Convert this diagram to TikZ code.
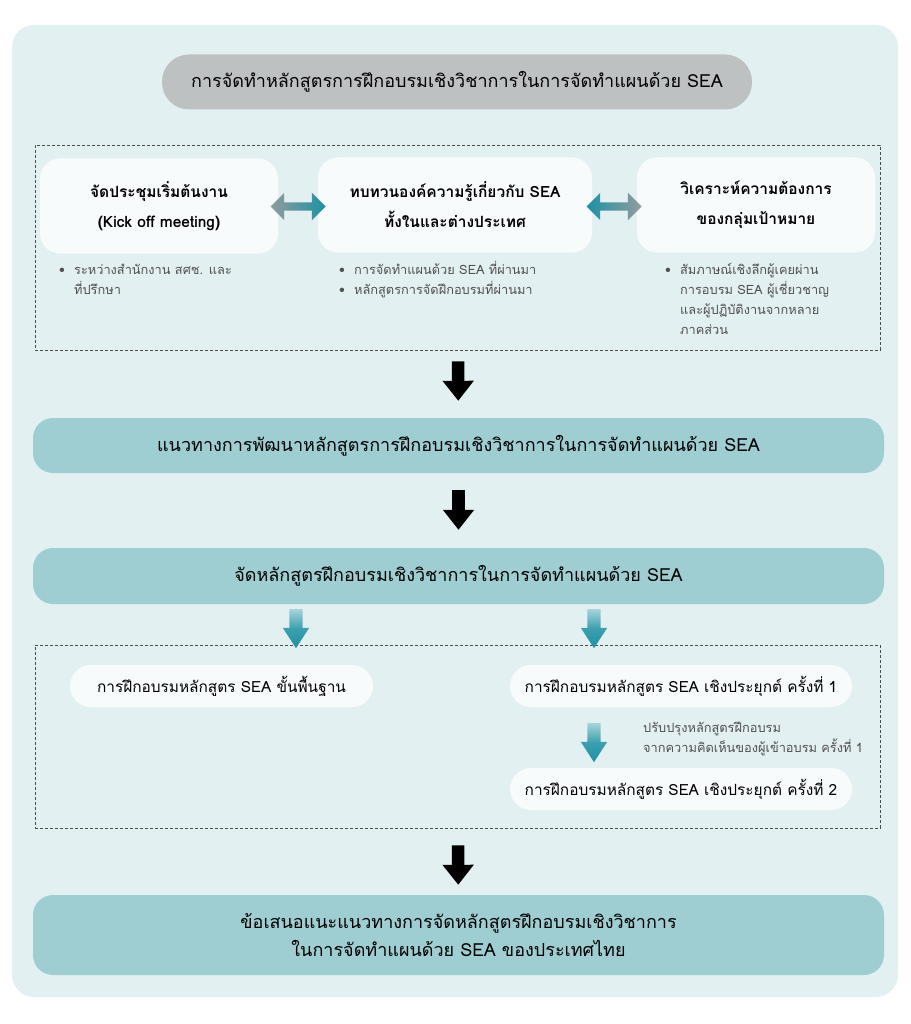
\documentclass[tikz,border=0pt]{standalone}
\usepackage{fontspec}
\setmainfont{Loma}[Script=Thai]
\usetikzlibrary{positioning,calc,shapes.arrows,arrows.meta}

\definecolor{panelbg}{RGB}{227,240,242}
\definecolor{titlegray}{RGB}{190,193,194}
\definecolor{boxwhite}{RGB}{247,251,252}
\definecolor{bandteal}{RGB}{159,206,210}
\definecolor{arrowteal}{RGB}{30,145,163}
\definecolor{arrowgray}{RGB}{145,156,158}
\definecolor{notegray}{RGB}{80,80,80}

\tikzset{
  titlebox/.style={fill=titlegray, rounded corners=27pt, minimum width=590pt,
    minimum height=55pt, inner sep=0pt, font=\fontsize{18}{22}\selectfont},
  topicbox/.style={fill=boxwhite, rounded corners=20pt, minimum height=95pt,
    inner sep=0pt, align=center, font=\bfseries\fontsize{15.5}{30}\selectfont},
  band/.style={fill=bandteal, rounded corners=20pt, minimum width=851pt,
    inner sep=0pt, align=center, font=\fontsize{18}{28}\selectfont},
  pill/.style={fill=boxwhite, rounded corners=21pt, minimum height=42pt,
    inner sep=0pt, font=\fontsize{15.4}{18}\selectfont},
  frame/.style={draw=black!70, densely dashed, line width=0.6pt,
    minimum width=845pt, inner sep=0pt},
  notes/.style={anchor=north west, inner sep=0pt, text=notegray,
    font=\fontsize{12.8}{20}\selectfont},
  swaparrow/.style={double arrow, double arrow head extend=9.5pt, inner sep=4pt,
    minimum height=55pt, shading=axis},
  tealdown/.style={single arrow, shape border rotate=270, inner sep=6.5pt,
    single arrow head extend=6.5pt, single arrow tip angle=66,
    minimum height=39pt, top color=arrowteal!30!panelbg,
    bottom color=arrowteal, middle color=arrowteal!85!panelbg},
  blackdown/.style={line width=12.5pt,
    -{Triangle[width=30pt,length=20pt]}}
}

\newcommand{\blist}[1]{{\fontsize{12.8}{20}\selectfont
  \begin{tabular}{@{}l@{\hspace{9pt}}l@{}}#1\end{tabular}}}

\begin{document}
\begin{tikzpicture}[x=1pt,y=-1pt]
  \useasboundingbox (0,0) rectangle (910,1024);
  \fill [panelbg, rounded corners=22pt] (12,25) rectangle (898,997);

  % heading
  \node [titlebox] (title) at (457,82)
    {การจัดทำหลักสูตรการฝึกอบรมเชิงวิชาการในการจัดทำแผนด้วย SEA};

  % first stage
  \node [frame, minimum height=205pt] (stageone) at (457.5,247.5) {};
  \node [topicbox, minimum width=238pt] (kickoff) at (159,206)
    {จัดประชุมเริ่มต้นงาน\\(Kick off meeting)};
  \node [topicbox, minimum width=274pt] (review) at (455,205)
    {ทบทวนองค์ความรู้เกี่ยวกับ SEA\\ทั้งในและต่างประเทศ};
  \node [topicbox, minimum width=238pt] (needs) at (756,205)
    {วิเคราะห์ความต้องการ\\ของกลุ่มเป้าหมาย};
  \node [swaparrow, left color=arrowgray, right color=arrowteal] (swapa)
    at (298,206.5) {};
  \node [swaparrow, left color=arrowteal, right color=arrowgray] (swapb)
    at (614,206.5) {};

  \node [notes] (kickoffnote) at (59,260)
    {\blist{\textbullet & ระหว่างสำนักงาน สศช. และ\\ & ที่ปรึกษา}};
  \node [notes] (reviewnote) at (339,260)
    {\blist{\textbullet & การจัดทำแผนด้วย SEA ที่ผ่านมา\\
      \textbullet & หลักสูตรการจัดฝึกอบรมที่ผ่านมา}};
  \node [notes] (needsnote) at (665,260)
    {\blist{\textbullet & สัมภาษณ์เชิงลึกผู้เคยผ่าน\\
      & การอบรม SEA ผู้เชี่ยวชาญ\\ & และผู้ปฏิบัติงานจากหลาย\\ & ภาคส่วน}};

  % guideline and course bands
  \node [band, minimum height=55pt] (guide) at (458.5,445.5)
    {แนวทางการพัฒนาหลักสูตรการฝึกอบรมเชิงวิชาการในการจัดทำแผนด้วย SEA};
  \node [band, minimum height=56pt] (course) at (458.5,576)
    {จัดหลักสูตรฝึกอบรมเชิงวิชาการในการจัดทำแผนด้วย SEA};

  % training stage
  \node [frame, minimum height=183pt] (stagetwo) at (457.5,736.5) {};
  \node [pill, minimum width=303pt] (basic) at (221.5,686)
    {การฝึกอบรมหลักสูตร SEA ขั้นพื้นฐาน};
  \node [pill, minimum width=342pt] (applyone) at (681,686)
    {การฝึกอบรมหลักสูตร SEA เชิงประยุกต์ ครั้งที่ 1};
  \node [pill, minimum width=342pt] (applytwo) at (681,789)
    {การฝึกอบรมหลักสูตร SEA เชิงประยุกต์ ครั้งที่ 2};
  \node [tealdown] (downa) at (296,623.5) {};
  \node [tealdown] (downb) at (594,623.5) {};
  \node [tealdown] (downc) at (594,737.5) {};
  \node [notes, anchor=west] (revise) at (643,738)
    {\blist{ปรับปรุงหลักสูตรฝึกอบรม\\จากความคิดเห็นของผู้เข้าอบรม ครั้งที่ 1}};

  % proposal
  \node [band, minimum height=80pt] (proposal) at (458.5,935)
    {ข้อเสนอแนะแนวทางการจัดหลักสูตรฝึกอบรมเชิงวิชาการ\\
     ในการจัดทำแผนด้วย SEA ของประเทศไทย};

  \draw [blackdown, shorten <=11pt, shorten >=17pt] (stageone) -- (guide);
  \draw [blackdown, shorten <=17pt, shorten >=18pt] (guide) -- (course);
  \draw [blackdown, shorten <=17pt, shorten >=10pt] (stagetwo) -- (proposal);
\end{tikzpicture}
\end{document}
